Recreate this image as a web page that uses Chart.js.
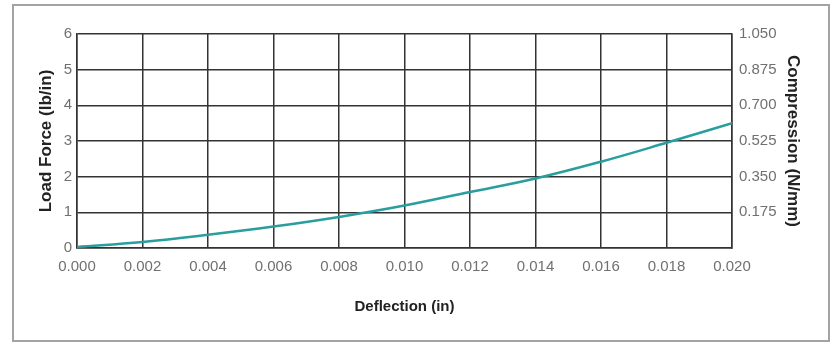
<!DOCTYPE html>
<html>
<head>
<meta charset="utf-8">
<script src="https://cdn.jsdelivr.net/npm/chart.js@4/dist/chart.umd.min.js"></script>
<style>
  html, body { margin: 0; padding: 0; background: #fff; }
  #wrap { position: relative; width: 831px; height: 345px; }
  #frame {
    position: absolute; left: 12px; top: 4px; width: 814px; height: 334px;
    border: 2px solid #a3a3a3; pointer-events: none;
  }
  canvas { position: absolute; left: 0; top: 0; }
</style>
</head>
<body>
<div id="wrap">
  <canvas id="myChart" width="831" height="345"></canvas>
  <div id="frame"></div>
</div>
<script>
// deflection (in) and load force (lb/in)
const deflection = [0, 0.002, 0.004, 0.006, 0.008, 0.010, 0.012, 0.014, 0.016, 0.018, 0.020];
const loadForce = [0.03, 0.17, 0.37, 0.60, 0.87, 1.19, 1.57, 1.95, 2.42, 2.95, 3.50];

const xTicks = [0, 0.002, 0.004, 0.006, 0.008, 0.010, 0.012, 0.014, 0.016, 0.018, 0.020];
const leftTicks = [0, 1, 2, 3, 4, 5, 6];
const rightTicks = [0.175, 0.350, 0.525, 0.700, 0.875, 1.050];

const fontFamily = "'Liberation Sans', Arial, sans-serif";
const gridColor = '#333';
const tickColor = '#707070';
const titleColor = '#222';

function setTicks(list) {
  return function(scale) {
    scale.ticks = list.map(v => ({ value: v }));
  };
}

const points = deflection.map((x, i) => ({ x: x, y: loadForce[i] }));

new Chart(document.getElementById('myChart'), {
  type: 'line',
  data: {
    datasets: [{
      data: points,
      borderColor: '#2a9d9f',
      borderWidth: 2.5,
      pointRadius: 0,
      tension: 0.4,
      fill: false
    }]
  },
  options: {
    responsive: false,
    animation: false,
    layout: { padding: { top: 34, left: 0, right: 0, bottom: 0 } },
    plugins: {
      legend: { display: false },
      tooltip: { enabled: false }
    },
    scales: {
      x: {
        type: 'linear',
        min: 0,
        max: 0.02,
        afterBuildTicks: setTicks(xTicks),
        afterFit: function(scale) { scale.height = 97; },
        grid: { color: gridColor, lineWidth: 1.5, drawTicks: false },
        border: { color: gridColor, width: 1.5 },
        ticks: {
          padding: 10,
          color: tickColor,
          font: { family: fontFamily, size: 15 },
          maxRotation: 0,
          callback: v => v.toFixed(3)
        },
        title: {
          display: true,
          text: 'Deflection (in)',
          color: titleColor,
          font: { family: fontFamily, size: 15, weight: 'bold' },
          padding: { top: 0, bottom: 29 }
        }
      },
      y: {
        position: 'left',
        min: 0,
        max: 6,
        afterBuildTicks: setTicks(leftTicks),
        afterFit: function(scale) { scale.width = 77; },
        grid: { color: gridColor, lineWidth: 1.5, drawTicks: false },
        border: { color: gridColor, width: 1.5 },
        ticks: {
          padding: 5,
          color: tickColor,
          font: { family: fontFamily, size: 15 }
        },
        title: {
          display: true,
          text: 'Load Force (lb/in)',
          color: titleColor,
          font: { family: fontFamily, size: 17, weight: 'bold' },
          padding: { top: 36, bottom: 0 }
        }
      },
      y2: {
        position: 'right',
        min: 0,
        max: 1.05,
        afterBuildTicks: setTicks(rightTicks),
        afterFit: function(scale) { scale.width = 99; },
        grid: { display: false, drawTicks: false },
        border: { display: true, color: gridColor, width: 1.5 },
        ticks: {
          padding: 7,
          color: tickColor,
          font: { family: fontFamily, size: 15 },
          callback: v => v.toFixed(3)
        },
        title: {
          display: true,
          text: 'Compression (N/mm)',
          color: titleColor,
          font: { family: fontFamily, size: 17, weight: 'bold' },
          padding: { top: 28, bottom: 0 }
        }
      }
    }
  }
});
</script>
</body>
</html>
